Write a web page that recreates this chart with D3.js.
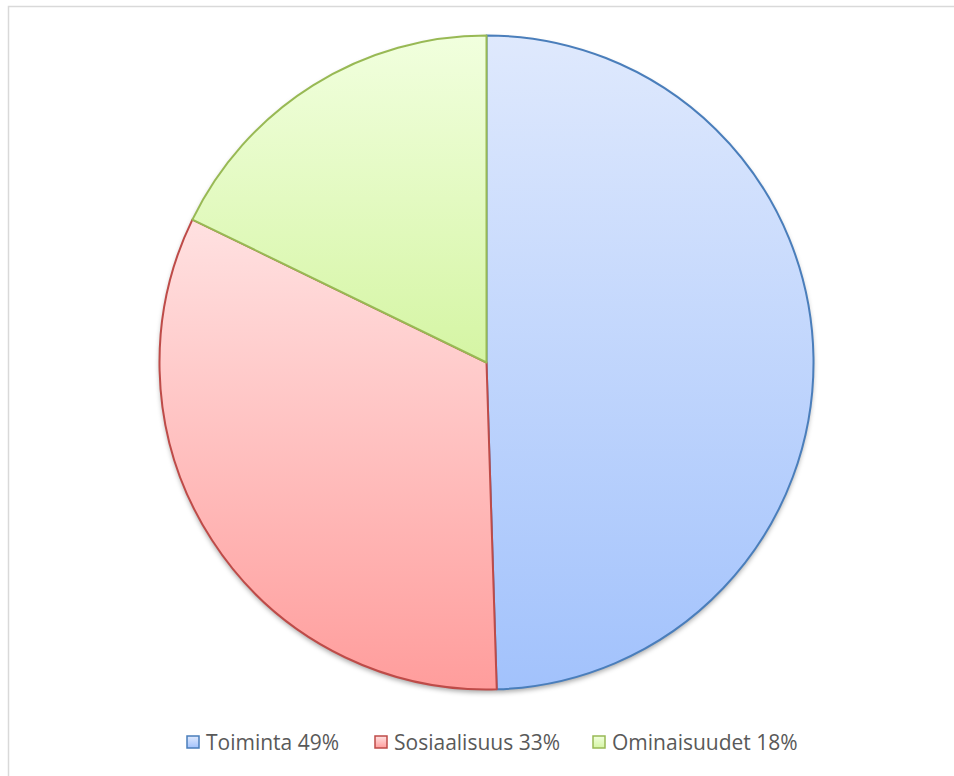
<!DOCTYPE html>
<html>
<head>
<meta charset="utf-8">
<script src="https://cdn.jsdelivr.net/npm/d3@7"></script>
<style>
  body { margin: 0; background: #fff; }
</style>
</head>
<body>
<script>
const labels = ["Toiminta 49%", "Sosiaalisuus 33%", "Ominaisuudet 18%"];
const values = [49.5, 32.7, 17.8];
const topColors = ["#dfe9fd", "#ffe1e1", "#f1ffde"];
const bottomColors = ["#a2c2fc", "#ff9d9c", "#d5f5a4"];
const strokeColors = ["#4a7ebb", "#be4b48", "#98b954"];

const width = 954;
const height = 776;
const cx = 486.5, cy = 362.5, radius = 327;

const svg = d3.select("body").append("svg")
  .attr("width", width)
  .attr("height", height);

// chart frame (right and bottom edges run past the window)
svg.append("rect")
  .attr("x", 8.5)
  .attr("y", 6.5)
  .attr("width", 960)
  .attr("height", 800)
  .attr("fill", "#fff")
  .attr("stroke", "#d9d9d9")
  .attr("stroke-width", 1.5);

const defs = svg.append("defs");

const shadow = defs.append("filter")
  .attr("id", "shadow")
  .attr("x", "-10%").attr("y", "-10%")
  .attr("width", "120%").attr("height", "120%");
shadow.append("feDropShadow")
  .attr("dx", 0)
  .attr("dy", 3)
  .attr("stdDeviation", 2.5)
  .attr("flood-color", "#000")
  .attr("flood-opacity", 0.35);

labels.forEach((d, i) => {
  const g = defs.append("linearGradient")
    .attr("id", "grad" + i)
    .attr("x1", 0).attr("y1", 0)
    .attr("x2", 0).attr("y2", 1);
  g.append("stop").attr("offset", "0%").attr("stop-color", topColors[i]);
  g.append("stop").attr("offset", "100%").attr("stop-color", bottomColors[i]);
});

const pie = d3.pie().sort(null).value(d => d);
const arc = d3.arc().innerRadius(0).outerRadius(radius);
const arcs = pie(values);

const pieG = svg.append("g")
  .attr("transform", `translate(${cx},${cy})`);

// shadow under the whole pie
pieG.append("circle")
  .attr("r", radius)
  .attr("fill", "#fff")
  .attr("filter", "url(#shadow)");

pieG.selectAll("path")
  .data(arcs)
  .join("path")
    .attr("d", arc)
    .attr("fill", (d, i) => `url(#grad${i})`)
    .attr("stroke", (d, i) => strokeColors[i])
    .attr("stroke-width", 2)
    .attr("stroke-linejoin", "round");

// legend
const legendX = [187, 375, 593];
const legend = svg.append("g")
  .attr("font-family", "'Open Sans', Lato, sans-serif")
  .attr("font-size", 21)
  .attr("fill", "#595959");

const item = legend.selectAll("g")
  .data(labels)
  .join("g")
    .attr("transform", (d, i) => `translate(${legendX[i]},736)`);

item.append("rect")
  .attr("width", 12)
  .attr("height", 12)
  .attr("fill", (d, i) => `url(#grad${i})`)
  .attr("stroke", (d, i) => strokeColors[i])
  .attr("stroke-width", 1.5);

item.append("text")
  .attr("x", 19)
  .attr("y", 13.5)
  .text(d => d);
</script>
</body>
</html>
